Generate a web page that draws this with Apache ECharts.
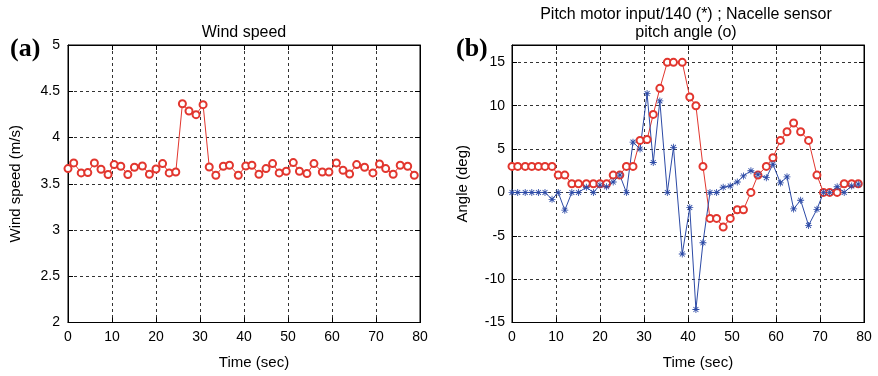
<!DOCTYPE html>
<html>
<head>
<meta charset="utf-8">
<script src="https://cdn.jsdelivr.net/npm/echarts@6/dist/echarts.min.js"></script>
<style>
  html, body { margin: 0; padding: 0; background: #fff; }
  #chart { width: 878px; height: 376px; }
</style>
</head>
<body>
<div id="chart"></div>
<script>
// Sample times (sec), shared by both panels
const times = [0, 1.3, 3.0, 4.5, 6.0, 7.5, 9.1, 10.5, 12.0, 13.6, 15.1, 16.9, 18.5, 20.0, 21.5, 23.0, 24.5, 26.0, 27.5, 29.1,
  30.7, 32.1, 33.6, 35.3, 36.7, 38.7, 40.4, 41.8, 43.4, 45.0, 46.5, 48.0, 49.6, 51.2, 52.6, 54.3, 55.9, 57.8, 59.3, 61.0,
  62.5, 64.0, 65.6, 67.4, 69.3, 70.8, 72.2, 73.9, 75.5, 77.2, 78.7];

// (a) Wind speed (m/s)
const windSpeed = [3.664, 3.725, 3.617, 3.621, 3.725, 3.657, 3.600, 3.707, 3.689, 3.600, 3.678, 3.692, 3.603, 3.660, 3.718,
  3.617, 3.627, 4.365, 4.286, 4.247, 4.355, 3.681, 3.592, 3.689, 3.700, 3.592, 3.692, 3.700, 3.603, 3.664, 3.718, 3.617,
  3.635, 3.729, 3.635, 3.610, 3.718, 3.627, 3.627, 3.725, 3.646, 3.606, 3.707, 3.678, 3.617, 3.714, 3.664, 3.603, 3.700,
  3.689, 3.592];

// (b) Pitch motor input/140 (*)
const pitchMotor = [0, 0, 0, 0, 0, 0, -0.8, 0, -2.05, 0, 0, 0.6, 0, 0.85, 0.65, 1.2, 2.0, 0, 5.8, 5.0, 11.4, 3.45, 10.55,
  0, 5.2, -7.1, -1.75, -13.5, -5.8, 0, 0, 0.6, 0.75, 1.2, 1.9, 2.5, 2.05, 1.7, 3.25, 1.1, 1.8, -1.9, -0.9, -3.8, -1.95,
  0, 0, 0.65, 0, 0.75, 0.95];

// (b) Nacelle sensor pitch angle (o)
const nacellePitch = [3, 3, 3, 3, 3, 3, 3, 2, 2, 1, 1, 1, 1, 1, 1, 2, 2, 3, 3, 6.0, 6.1, 9, 12, 15, 15, 15, 11, 10, 3,
  -3, -3, -4, -3, -2, -2, 0, 2, 3, 4, 6, 7, 8, 7, 6, 2, 0, 0, 0, 1, 1, 1];

const xTicks = { min: 0, max: 80, interval: 10 };
const yTicksA = { min: 2, max: 5, interval: 0.5 };
const yTicksB = { min: -15, max: 17, interval: 5 };

const FONT = 'Liberation Sans';
const RED = '#e2362e';
const BLUE = '#2c4aa6';
const asterisk = 'path://M-5,-0.6L5,-0.6L5,0.6L-5,0.6Z M-0.6,-5L0.6,-5L0.6,5L-0.6,5Z ' +
  'M-3.12,-3.96L3.96,3.12L3.12,3.96L-3.96,-3.12Z M-3.12,3.96L-3.96,3.12L3.12,-3.96L3.96,-3.12Z';

function pairs(ys) { return times.map((t, i) => [t, ys[i]]); }

const gridLine = { show: true, lineStyle: { color: '#333', type: [3, 3], width: 1 } };
const axLine = { show: true, onZero: false, lineStyle: { color: '#000', width: 1 } };
const tick = { show: true, inside: true, length: 5, lineStyle: { color: '#000' } };
const label = { color: '#000', fontFamily: FONT, fontSize: 14 };

function xMain(gi) {
  return Object.assign({
    type: 'value', gridIndex: gi, position: 'bottom',
    name: 'Time (sec)', nameLocation: 'middle', nameGap: 33,
    nameTextStyle: { color: '#000', fontFamily: FONT, fontSize: 15, padding: [0, 0, 0, 20] },
    axisLine: axLine, axisTick: tick, splitLine: gridLine,
    axisLabel: Object.assign({ margin: 8 }, label)
  }, xTicks);
}
function xTop(gi) {
  return Object.assign({
    type: 'value', gridIndex: gi, position: 'top',
    axisLine: axLine, axisTick: tick, splitLine: { show: false }, axisLabel: { show: false }
  }, xTicks);
}
function yRight(gi, ticks) {
  return Object.assign({
    type: 'value', gridIndex: gi, position: 'right',
    axisLine: axLine, axisTick: tick, splitLine: { show: false }, axisLabel: { show: false }
  }, ticks);
}

const option = {
  backgroundColor: '#fff',
  animation: false,
  title: [
    { text: 'Wind speed', left: 239, top: 20, textAlign: 'center',
      textStyle: { fontFamily: FONT, fontSize: 16, fontWeight: 'normal', color: '#000' } },
    { text: 'Pitch motor input/140 (*) ; Nacelle sensor\npitch angle (o)', left: 681, top: 0, textAlign: 'center',
      textStyle: { fontFamily: FONT, fontSize: 16, fontWeight: 'normal', color: '#000', lineHeight: 18.5 } },
    { text: '(a)', left: 5, top: 31,
      textStyle: { fontFamily: 'Liberation Serif', fontSize: 26, fontWeight: 'bold', color: '#000' } },
    { text: '(b)', left: 451, top: 31,
      textStyle: { fontFamily: 'Liberation Serif', fontSize: 26, fontWeight: 'bold', color: '#000' } }
  ],
  grid: [
    { left: 68, right: 458, top: 45, bottom: 53.5, show: true, borderColor: '#000', borderWidth: 1, backgroundColor: '#fff' },
    { left: 512, right: 14, top: 45, bottom: 53.5, show: true, borderColor: '#000', borderWidth: 1, backgroundColor: '#fff' }
  ],
  xAxis: [xMain(0), xMain(1), xTop(0), xTop(1)],
  yAxis: [
    Object.assign({
      type: 'value', gridIndex: 0, position: 'left',
      name: 'Wind speed (m/s)', nameLocation: 'middle', nameGap: 45,
      nameTextStyle: { color: '#000', fontFamily: FONT, fontSize: 15 },
      axisLine: axLine, axisTick: tick, splitLine: gridLine,
      axisLabel: Object.assign({ margin: 8 }, label)
    }, yTicksA),
    Object.assign({
      type: 'value', gridIndex: 1, position: 'left',
      name: 'Angle (deg)', nameLocation: 'middle', nameGap: 42,
      nameTextStyle: { color: '#000', fontFamily: FONT, fontSize: 15 },
      axisLine: axLine, axisTick: tick, splitLine: gridLine,
      axisLabel: Object.assign({ margin: 7, showMaxLabel: false }, label)
    }, yTicksB),
    yRight(0, yTicksA),
    yRight(1, yTicksB)
  ],
  series: [
    { type: 'line', name: 'Wind speed', xAxisIndex: 0, yAxisIndex: 0, data: pairs(windSpeed),
      symbol: 'emptyCircle', symbolSize: 7, showAllSymbol: true,
      lineStyle: { color: RED, width: 1 }, itemStyle: { color: RED, borderWidth: 1 } },
    { type: 'line', name: 'Nacelle sensor pitch angle', xAxisIndex: 1, yAxisIndex: 1, data: pairs(nacellePitch),
      symbol: 'emptyCircle', symbolSize: 7, showAllSymbol: true,
      lineStyle: { color: RED, width: 1 }, itemStyle: { color: RED, borderWidth: 1 } },
    { type: 'line', name: 'Pitch motor input/140', xAxisIndex: 1, yAxisIndex: 1, data: pairs(pitchMotor),
      symbol: asterisk, symbolSize: 7, showAllSymbol: true,
      lineStyle: { color: BLUE, width: 1 }, itemStyle: { color: BLUE, borderWidth: 0 } }
  ]
};

const chart = echarts.init(document.getElementById('chart'), null, { renderer: 'canvas' });
chart.setOption(option);
</script>
</body>
</html>
